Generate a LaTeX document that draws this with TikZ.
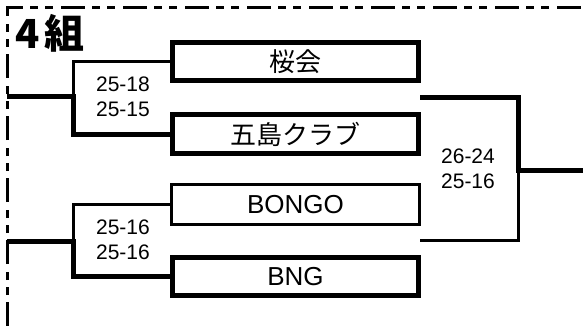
\documentclass[tikz,border=0pt]{standalone}
\usepackage{fontspec}
\setmainfont{Liberation Sans}
\newfontfamily\cjk{Noto Sans CJK JP}
\usetikzlibrary{calc}

\begin{document}
\begin{tikzpicture}[x=1pt, y=-1pt]
\tikzset{TeamStyle/.style =
    {draw, shape=rectangle, line width=5pt, minimum width=246pt, minimum height=38pt, inner sep=0pt, font=\fontsize{26}{30}\selectfont}
}
\tikzset{LostTeamStyle/.style = {TeamStyle, line width=3pt, minimum width=248pt, minimum height=40pt}}
\tikzset{ScoreStyle/.style = {align=center, inner sep=0pt, font=\fontsize{21}{25}\selectfont}}
\tikzset{TitleStyle/.style = {inner sep=0pt, font=\cjk\bfseries\fontsize{40}{40}\selectfont}}
\tikzset{WinEdgeStyle/.style = {draw, line width=5pt}}
\tikzset{EdgeStyle/.style = {draw, line width=3pt}}
\tikzset{FrameStyle/.style = {draw, line width=3pt, dash pattern=on 24pt off 7pt on 8pt off 7pt on 8pt off 8pt}}
\useasboundingbox (0,0) rectangle (583,326);
\draw[FrameStyle] (7,326) -- (7,8) -- (583,8);
\node[TitleStyle] (G-title) at (50,33) {4\hspace{4pt}組};
\foreach \index/\name/\ypos in {1/{\cjk 桜会}/62, 2/{\cjk 五島クラブ}/134, 4/BNG/276.5}
    \node[TeamStyle] (G-team-\index) at (295.5,\ypos) {\name};
\node[LostTeamStyle] (G-team-3) at (295.5,204.5) {BONGO};
\coordinate (G-win-1) at (73,97);
\coordinate (G-win-2) at (73,241);
\coordinate (G-win-3) at (518,170);
\coordinate (G-out-1) at (7,97);
\coordinate (G-out-2) at (7,241);
\coordinate (G-out-3) at (583,170);
\coordinate (G-in-1) at (420,98);
\coordinate (G-in-2) at (420,240);
\draw[EdgeStyle] (G-team-1.west) -| (G-win-1);
\draw[WinEdgeStyle] (G-team-2.west) -| (G-win-1) -- (G-out-1);
\draw[EdgeStyle] (G-team-3.west) -| (G-win-2);
\draw[WinEdgeStyle] (G-team-4.west) -| (G-win-2) -- (G-out-2);
\draw[WinEdgeStyle] (G-in-1) -| (G-win-3) -- (G-out-3);
\draw[EdgeStyle] (G-in-2) -| (G-win-3);
\node[ScoreStyle] (G-score-1) at (123,97) {25-18\\25-15};
\node[ScoreStyle] (G-score-2) at (123,240) {25-16\\25-16};
\node[ScoreStyle] (G-score-3) at (468,168.5) {26-24\\25-16};
\end{tikzpicture}
\end{document}
